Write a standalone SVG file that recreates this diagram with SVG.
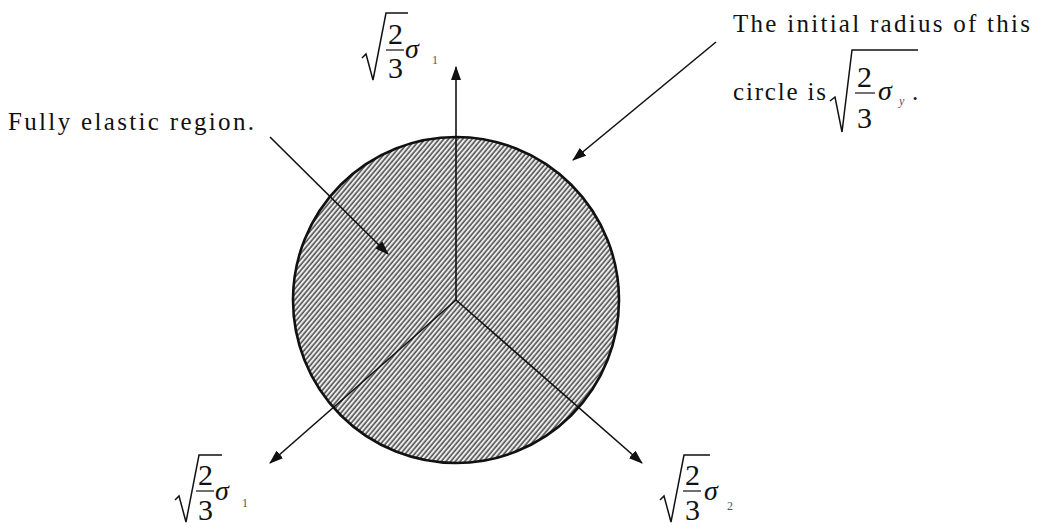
<svg xmlns="http://www.w3.org/2000/svg" width="1043" height="526" viewBox="0 0 1043 526">
<style>
.t{font-family:"Liberation Serif","Times New Roman",serif;fill:#111;}
.lbl{font-size:25px;}
.num{font-family:"Liberation Serif","Times New Roman",serif;font-size:30px;fill:#111;}
.sig{font-size:28px;font-style:italic;}
.sub{font-family:"Liberation Serif","Times New Roman",serif;font-size:12px;fill:#555;}
.ln{stroke:#111;stroke-width:1.6;fill:none;}
.rad{stroke:#111;stroke-width:1.5;fill:none;stroke-linejoin:miter;}
.bar{stroke:#111;stroke-width:1.2;}
</style>
<defs>
<pattern id="hatch" width="3.6" height="10" patternUnits="userSpaceOnUse" patternTransform="rotate(40)">
<rect width="3.6" height="10" fill="#ececec"/>
<line x1="1" y1="0" x2="1" y2="10" stroke="#333" stroke-width="1.3"/>
</pattern>
<marker id="ah" viewBox="0 0 14 10" refX="13" refY="5" markerWidth="14" markerHeight="10" markerUnits="userSpaceOnUse" orient="auto">
<path d="M0,0 L14,5 L0,10 Z" fill="#111"/>
</marker>
</defs>
<rect width="1043" height="526" fill="#fff"/>
<g id="circle">
<circle cx="456" cy="300" r="163" fill="url(#hatch)" stroke="#111" stroke-width="2.6"/>
</g>
<g id="connectors">
<line class="ln" x1="456" y1="300" x2="456" y2="67" marker-end="url(#ah)"/>
<line class="ln" x1="456" y1="300" x2="270" y2="463" marker-end="url(#ah)"/>
<line class="ln" x1="456" y1="300" x2="642" y2="463" marker-end="url(#ah)"/>
<line class="ln" x1="270" y1="137" x2="388" y2="254" marker-end="url(#ah)"/>
<line class="ln" x1="716" y1="42" x2="573" y2="160" marker-end="url(#ah)"/>
</g>
<g id="label-elastic">
<text class="t lbl" x="8" y="130" textLength="246" lengthAdjust="spacing">Fully elastic region.</text>
</g>
<g id="label-radius">
<text class="t lbl" x="733" y="32" textLength="297" lengthAdjust="spacing">The initial radius of this</text>
<text class="t lbl" x="733" y="100" textLength="93" lengthAdjust="spacing">circle is</text>
<path class="rad" d="M830,101 L835,97 L842,132 L852,50 L918,50"/>
<text class="num" x="857" y="87">2</text>
<line class="bar" x1="855" y1="93" x2="875" y2="93"/>
<text class="num" x="857" y="128">3</text>
<text class="t sig" x="878" y="100">σ</text>
<text class="sub" x="899" y="105" font-style="italic">y</text>
<text class="t lbl" x="912" y="100">.</text>
</g>
<g id="label-top">
<path class="rad" d="M362,58 L366,54 L373,80 L386,13 L408,13"/>
<text class="num" x="388" y="44">2</text>
<line class="bar" x1="386" y1="50" x2="404" y2="50"/>
<text class="num" x="388" y="78">3</text>
<text class="t sig" x="405" y="58">σ</text>
<text class="sub" x="432" y="64">1</text>
</g>
<g id="label-left">
<path class="rad" d="M175,500 L179,496 L186,522 L199,455 L222,455"/>
<text class="num" x="198" y="485">2</text>
<line class="bar" x1="196" y1="491" x2="214" y2="491"/>
<text class="num" x="198" y="520">3</text>
<text class="t sig" x="215" y="500">σ</text>
<text class="sub" x="242" y="507">1</text>
</g>
<g id="label-right">
<path class="rad" d="M660,500 L664,496 L671,522 L684,455 L710,455"/>
<text class="num" x="685" y="485">2</text>
<line class="bar" x1="683" y1="491" x2="701" y2="491"/>
<text class="num" x="685" y="520">3</text>
<text class="t sig" x="704" y="500">σ</text>
<text class="sub" x="727" y="510">2</text>
</g>
</svg>
